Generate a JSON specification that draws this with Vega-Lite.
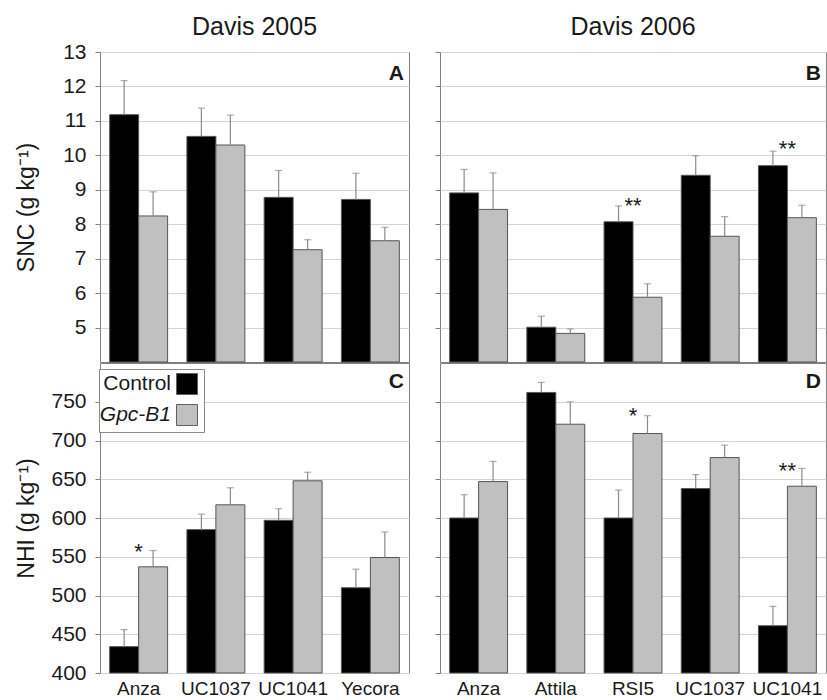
{
  "$schema": "https://vega.github.io/schema/vega-lite/v6.json",
  "padding": {"left": 14, "top": 14, "right": 0, "bottom": 0},
  "background": "white",
  "config": {
    "font": "Liberation Sans",
    "view": {"stroke": "#808080", "strokeWidth": 1},
    "axis": {"labelFont": "Liberation Sans", "titleFont": "Liberation Sans", "labelColor": "#1a1a1a", "titleColor": "#1a1a1a", "gridColor": "#d4d4d4", "tickColor": "#808080", "domain": false, "labelOverlap": false, "labelFlush": false},
    "title": {"font": "Liberation Sans", "fontSize": 25, "fontWeight": "normal", "color": "#1a1a1a"},
    "legend": {"labelFont": "Liberation Sans"}
  },
  "datasets": {
    "bars": [
      {"panel": "A", "cultivar": "Anza", "genotype": "Control", "mean": 11.18, "upper": 12.17},
      {"panel": "A", "cultivar": "Anza", "genotype": "Gpc-B1", "mean": 8.24, "upper": 8.94},
      {"panel": "A", "cultivar": "UC1037", "genotype": "Control", "mean": 10.55, "upper": 11.37},
      {"panel": "A", "cultivar": "UC1037", "genotype": "Gpc-B1", "mean": 10.30, "upper": 11.17},
      {"panel": "A", "cultivar": "UC1041", "genotype": "Control", "mean": 8.78, "upper": 9.56},
      {"panel": "A", "cultivar": "UC1041", "genotype": "Gpc-B1", "mean": 7.26, "upper": 7.55},
      {"panel": "A", "cultivar": "Yecora", "genotype": "Control", "mean": 8.72, "upper": 9.48},
      {"panel": "A", "cultivar": "Yecora", "genotype": "Gpc-B1", "mean": 7.52, "upper": 7.91},
      {"panel": "B", "cultivar": "Anza", "genotype": "Control", "mean": 8.91, "upper": 9.59},
      {"panel": "B", "cultivar": "Anza", "genotype": "Gpc-B1", "mean": 8.43, "upper": 9.49},
      {"panel": "B", "cultivar": "Attila", "genotype": "Control", "mean": 5.01, "upper": 5.33},
      {"panel": "B", "cultivar": "Attila", "genotype": "Gpc-B1", "mean": 4.83, "upper": 4.96},
      {"panel": "B", "cultivar": "RSI5", "genotype": "Control", "mean": 8.07, "upper": 8.53},
      {"panel": "B", "cultivar": "RSI5", "genotype": "Gpc-B1", "mean": 5.88, "upper": 6.27},
      {"panel": "B", "cultivar": "UC1037", "genotype": "Control", "mean": 9.42, "upper": 9.99},
      {"panel": "B", "cultivar": "UC1037", "genotype": "Gpc-B1", "mean": 7.65, "upper": 8.22},
      {"panel": "B", "cultivar": "UC1041", "genotype": "Control", "mean": 9.70, "upper": 10.12},
      {"panel": "B", "cultivar": "UC1041", "genotype": "Gpc-B1", "mean": 8.19, "upper": 8.55},
      {"panel": "C", "cultivar": "Anza", "genotype": "Control", "mean": 434, "upper": 456},
      {"panel": "C", "cultivar": "Anza", "genotype": "Gpc-B1", "mean": 537, "upper": 558},
      {"panel": "C", "cultivar": "UC1037", "genotype": "Control", "mean": 585, "upper": 605},
      {"panel": "C", "cultivar": "UC1037", "genotype": "Gpc-B1", "mean": 617, "upper": 639},
      {"panel": "C", "cultivar": "UC1041", "genotype": "Control", "mean": 597, "upper": 612},
      {"panel": "C", "cultivar": "UC1041", "genotype": "Gpc-B1", "mean": 648, "upper": 659},
      {"panel": "C", "cultivar": "Yecora", "genotype": "Control", "mean": 510, "upper": 534},
      {"panel": "C", "cultivar": "Yecora", "genotype": "Gpc-B1", "mean": 549, "upper": 582},
      {"panel": "D", "cultivar": "Anza", "genotype": "Control", "mean": 600, "upper": 630},
      {"panel": "D", "cultivar": "Anza", "genotype": "Gpc-B1", "mean": 647, "upper": 673},
      {"panel": "D", "cultivar": "Attila", "genotype": "Control", "mean": 762, "upper": 775},
      {"panel": "D", "cultivar": "Attila", "genotype": "Gpc-B1", "mean": 721, "upper": 750},
      {"panel": "D", "cultivar": "RSI5", "genotype": "Control", "mean": 600, "upper": 636},
      {"panel": "D", "cultivar": "RSI5", "genotype": "Gpc-B1", "mean": 709, "upper": 732},
      {"panel": "D", "cultivar": "UC1037", "genotype": "Control", "mean": 638, "upper": 656},
      {"panel": "D", "cultivar": "UC1037", "genotype": "Gpc-B1", "mean": 678, "upper": 694},
      {"panel": "D", "cultivar": "UC1041", "genotype": "Control", "mean": 461, "upper": 486},
      {"panel": "D", "cultivar": "UC1041", "genotype": "Gpc-B1", "mean": 641, "upper": 664}
    ],
    "sig": [
      {"panel": "B", "cultivar": "RSI5", "y": 8.33, "label": "**"},
      {"panel": "B", "cultivar": "UC1041", "y": 9.98, "label": "**"},
      {"panel": "C", "cultivar": "Anza", "y": 547, "label": "*"},
      {"panel": "D", "cultivar": "RSI5", "y": 723, "label": "*"},
      {"panel": "D", "cultivar": "UC1041", "y": 652, "label": "**"}
    ]
  },
  "columns": 2,
  "spacing": {"row": 1, "column": 31},
  "bounds": "flush",
  "resolve": {"scale": {"x": "independent", "y": "independent", "color": "independent", "xOffset": "independent"}, "legend": {"color": "independent"}},
  "concat": [
    {
      "width": 309, "height": 310,
      "title": {"text": "Davis 2005", "offset": 1},
      "data": {"name": "bars"},
      "transform": [{"filter": "datum.panel === 'A'"}],
      "encoding": {
        "x": {"field": "cultivar", "type": "nominal", "scale": {"domain": ["Anza", "UC1037", "UC1041", "Yecora"], "paddingInner": 0.25, "paddingOuter": 0.125}, "axis": null}
      },
      "layer": [
        {
          "mark": {"type": "bar", "stroke": "#555555", "strokeWidth": 1},
          "encoding": {
            "xOffset": {"field": "genotype", "type": "nominal", "scale": {"domain": ["Control", "Gpc-B1"], "paddingInner": 0, "paddingOuter": 0}},
            "y": {"field": "mean", "type": "quantitative", "title": "SNC (g kg⁻¹)", "scale": {"domain": [4, 13], "nice": false, "zero": false},
              "axis": {"values": [5, 6, 7, 8, 9, 10, 11, 12, 13], "grid": true, "tickSize": 5, "labelOverlap": false, "labelPadding": 9, "labelFontSize": 21, "titleFontSize": 23, "titleFontWeight": "normal", "minExtent": 50, "maxExtent": 50, "titlePadding": 12}},
            "y2": {"datum": 4},
            "color": {"field": "genotype", "type": "nominal", "scale": {"domain": ["Control", "Gpc-B1"], "range": ["#000000", "#c0c0c0"]}, "legend": null}
          }
        },
        {
          "mark": {"type": "rule", "color": "#8a8a8a", "strokeWidth": 1.2},
          "encoding": {
            "xOffset": {"field": "genotype", "type": "nominal"},
            "y": {"field": "mean", "type": "quantitative", "title": "SNC (g kg⁻¹)",
              "axis": {"values": [5, 6, 7, 8, 9, 10, 11, 12, 13], "grid": true, "tickSize": 5, "labelOverlap": false, "labelPadding": 9, "labelFontSize": 21, "titleFontSize": 23, "titleFontWeight": "normal", "minExtent": 50, "maxExtent": 50, "titlePadding": 12}},
            "y2": {"field": "upper"}
          }
        },
        {
          "mark": {"type": "tick", "orient": "horizontal", "color": "#8a8a8a", "size": 7, "thickness": 1.2},
          "encoding": {
            "xOffset": {"field": "genotype", "type": "nominal"},
            "y": {"field": "upper", "type": "quantitative", "title": "SNC (g kg⁻¹)",
              "axis": {"values": [5, 6, 7, 8, 9, 10, 11, 12, 13], "grid": true, "tickSize": 5, "labelOverlap": false, "labelPadding": 9, "labelFontSize": 21, "titleFontSize": 23, "titleFontWeight": "normal", "minExtent": 50, "maxExtent": 50, "titlePadding": 12}}
          }
        },
        {
          "data": {"values": [{"label": "A"}]},
          "mark": {"type": "text", "fontSize": 21, "fontWeight": "bold", "align": "right", "dx": -5, "baseline": "middle", "color": "#1a1a1a"},
          "encoding": {"x": {"value": "width"}, "y": {"datum": 12.35, "type": "quantitative", "title": "SNC (g kg⁻¹)",
              "axis": {"values": [5, 6, 7, 8, 9, 10, 11, 12, 13], "grid": true, "tickSize": 5, "labelOverlap": false, "labelPadding": 9, "labelFontSize": 21, "titleFontSize": 23, "titleFontWeight": "normal", "minExtent": 50, "maxExtent": 50, "titlePadding": 12}}, "text": {"field": "label"}}
        }
      ]
    },
    {
      "width": 386, "height": 310,
      "title": {"text": "Davis 2006", "offset": 12},
      "data": {"name": "bars"},
      "transform": [{"filter": "datum.panel === 'B'"}],
      "encoding": {
        "x": {"field": "cultivar", "type": "nominal", "scale": {"domain": ["Anza", "Attila", "RSI5", "UC1037", "UC1041"], "paddingInner": 0.25, "paddingOuter": 0.125}, "axis": null}
      },
      "layer": [
        {
          "mark": {"type": "bar", "stroke": "#555555", "strokeWidth": 1},
          "encoding": {
            "xOffset": {"field": "genotype", "type": "nominal", "scale": {"domain": ["Control", "Gpc-B1"], "paddingInner": 0, "paddingOuter": 0}},
            "y": {"field": "mean", "type": "quantitative", "title": null, "scale": {"domain": [4, 13], "nice": false, "zero": false},
              "axis": {"values": [5, 6, 7, 8, 9, 10, 11, 12, 13], "grid": true, "tickSize": 5, "labels": false}},
            "y2": {"datum": 4},
            "color": {"field": "genotype", "type": "nominal", "scale": {"domain": ["Control", "Gpc-B1"], "range": ["#000000", "#c0c0c0"]}, "legend": null}
          }
        },
        {
          "mark": {"type": "rule", "color": "#8a8a8a", "strokeWidth": 1.2},
          "encoding": {
            "xOffset": {"field": "genotype", "type": "nominal"},
            "y": {"field": "mean", "type": "quantitative", "title": null,
              "axis": {"values": [5, 6, 7, 8, 9, 10, 11, 12, 13], "grid": true, "tickSize": 5, "labels": false}},
            "y2": {"field": "upper"}
          }
        },
        {
          "mark": {"type": "tick", "orient": "horizontal", "color": "#8a8a8a", "size": 7, "thickness": 1.2},
          "encoding": {
            "xOffset": {"field": "genotype", "type": "nominal"},
            "y": {"field": "upper", "type": "quantitative", "title": null,
              "axis": {"values": [5, 6, 7, 8, 9, 10, 11, 12, 13], "grid": true, "tickSize": 5, "labels": false}}
          }
        },
        {
          "data": {"name": "sig"},
          "transform": [{"filter": "datum.panel === 'B'"}],
          "mark": {"type": "text", "fontSize": 22, "baseline": "alphabetic", "color": "#1a1a1a"},
          "encoding": {"y": {"field": "y", "type": "quantitative", "title": null,
              "axis": {"values": [5, 6, 7, 8, 9, 10, 11, 12, 13], "grid": true, "tickSize": 5, "labels": false}}, "text": {"field": "label"}}
        },
        {
          "data": {"values": [{"label": "B"}]},
          "mark": {"type": "text", "fontSize": 21, "fontWeight": "bold", "align": "right", "dx": -5, "baseline": "middle", "color": "#1a1a1a"},
          "encoding": {"x": {"value": "width"}, "y": {"datum": 12.35, "type": "quantitative", "title": null,
              "axis": {"values": [5, 6, 7, 8, 9, 10, 11, 12, 13], "grid": true, "tickSize": 5, "labels": false}}, "text": {"field": "label"}}
        }
      ]
    },
    {
      "width": 309, "height": 310,
      "data": {"name": "bars"},
      "transform": [{"filter": "datum.panel === 'C'"}],
      "encoding": {
        "x": {"field": "cultivar", "type": "nominal", "scale": {"domain": ["Anza", "UC1037", "UC1041", "Yecora"], "paddingInner": 0.25, "paddingOuter": 0.125},
          "axis": {"title": null, "labelAngle": 0, "ticks": false, "tickSize": 0, "labelPadding": 6, "labelFontSize": 19}}
      },
      "layer": [
        {
          "mark": {"type": "bar", "stroke": "#555555", "strokeWidth": 1},
          "encoding": {
            "xOffset": {"field": "genotype", "type": "nominal", "scale": {"domain": ["Control", "Gpc-B1"], "paddingInner": 0, "paddingOuter": 0}},
            "y": {"field": "mean", "type": "quantitative", "title": "NHI (g kg⁻¹)", "scale": {"domain": [400, 800], "nice": false, "zero": false},
              "axis": {"values": [400, 450, 500, 550, 600, 650, 700, 750], "grid": true, "tickSize": 5, "labelOverlap": false, "labelPadding": 9, "labelFontSize": 21, "titleFontSize": 23, "titleFontWeight": "normal", "minExtent": 50, "maxExtent": 50, "titlePadding": 12}},
            "y2": {"datum": 400},
            "color": {"field": "genotype", "type": "nominal", "scale": {"domain": ["Control", "Gpc-B1"], "range": ["#000000", "#c0c0c0"]},
              "legend": {"title": null, "orient": "none", "legendX": -1, "legendY": 6, "direction": "vertical", "symbolType": "square", "symbolSize": 441, "symbolStrokeColor": "#606060", "symbolStrokeWidth": 1, "symbolOffset": 73, "labelAlign": "right", "labelOffset": -27, "labelFontSize": 21, "labelColor": "#1a1a1a", "fillColor": "white", "strokeColor": "#8a8a8a", "padding": 4, "rowPadding": 5,
                "encode": {"labels": {"update": {"fontStyle": {"signal": "datum.label === 'Gpc-B1' ? 'italic' : 'normal'"}}}}}}
          }
        },
        {
          "mark": {"type": "rule", "color": "#8a8a8a", "strokeWidth": 1.2},
          "encoding": {
            "xOffset": {"field": "genotype", "type": "nominal"},
            "y": {"field": "mean", "type": "quantitative", "title": "NHI (g kg⁻¹)",
              "axis": {"values": [400, 450, 500, 550, 600, 650, 700, 750], "grid": true, "tickSize": 5, "labelOverlap": false, "labelPadding": 9, "labelFontSize": 21, "titleFontSize": 23, "titleFontWeight": "normal", "minExtent": 50, "maxExtent": 50, "titlePadding": 12}},
            "y2": {"field": "upper"}
          }
        },
        {
          "mark": {"type": "tick", "orient": "horizontal", "color": "#8a8a8a", "size": 7, "thickness": 1.2},
          "encoding": {
            "xOffset": {"field": "genotype", "type": "nominal"},
            "y": {"field": "upper", "type": "quantitative", "title": "NHI (g kg⁻¹)",
              "axis": {"values": [400, 450, 500, 550, 600, 650, 700, 750], "grid": true, "tickSize": 5, "labelOverlap": false, "labelPadding": 9, "labelFontSize": 21, "titleFontSize": 23, "titleFontWeight": "normal", "minExtent": 50, "maxExtent": 50, "titlePadding": 12}}
          }
        },
        {
          "data": {"name": "sig"},
          "transform": [{"filter": "datum.panel === 'C'"}],
          "mark": {"type": "text", "fontSize": 22, "baseline": "alphabetic", "color": "#1a1a1a"},
          "encoding": {"y": {"field": "y", "type": "quantitative", "title": "NHI (g kg⁻¹)",
              "axis": {"values": [400, 450, 500, 550, 600, 650, 700, 750], "grid": true, "tickSize": 5, "labelOverlap": false, "labelPadding": 9, "labelFontSize": 21, "titleFontSize": 23, "titleFontWeight": "normal", "minExtent": 50, "maxExtent": 50, "titlePadding": 12}}, "text": {"field": "label"}}
        },
        {
          "data": {"values": [{"label": "C"}]},
          "mark": {"type": "text", "fontSize": 21, "fontWeight": "bold", "align": "right", "dx": -5, "baseline": "middle", "color": "#1a1a1a"},
          "encoding": {"x": {"value": "width"}, "y": {"datum": 775, "type": "quantitative", "title": "NHI (g kg⁻¹)",
              "axis": {"values": [400, 450, 500, 550, 600, 650, 700, 750], "grid": true, "tickSize": 5, "labelOverlap": false, "labelPadding": 9, "labelFontSize": 21, "titleFontSize": 23, "titleFontWeight": "normal", "minExtent": 50, "maxExtent": 50, "titlePadding": 12}}, "text": {"field": "label"}}
        }
      ]
    },
    {
      "width": 386, "height": 310,
      "data": {"name": "bars"},
      "transform": [{"filter": "datum.panel === 'D'"}],
      "encoding": {
        "x": {"field": "cultivar", "type": "nominal", "scale": {"domain": ["Anza", "Attila", "RSI5", "UC1037", "UC1041"], "paddingInner": 0.25, "paddingOuter": 0.125},
          "axis": {"title": null, "labelAngle": 0, "ticks": false, "tickSize": 0, "labelPadding": 6, "labelFontSize": 19}}
      },
      "layer": [
        {
          "mark": {"type": "bar", "stroke": "#555555", "strokeWidth": 1},
          "encoding": {
            "xOffset": {"field": "genotype", "type": "nominal", "scale": {"domain": ["Control", "Gpc-B1"], "paddingInner": 0, "paddingOuter": 0}},
            "y": {"field": "mean", "type": "quantitative", "title": null, "scale": {"domain": [400, 800], "nice": false, "zero": false},
              "axis": {"values": [400, 450, 500, 550, 600, 650, 700, 750], "grid": true, "tickSize": 5, "labels": false}},
            "y2": {"datum": 400},
            "color": {"field": "genotype", "type": "nominal", "scale": {"domain": ["Control", "Gpc-B1"], "range": ["#000000", "#c0c0c0"]}, "legend": null}
          }
        },
        {
          "mark": {"type": "rule", "color": "#8a8a8a", "strokeWidth": 1.2},
          "encoding": {
            "xOffset": {"field": "genotype", "type": "nominal"},
            "y": {"field": "mean", "type": "quantitative", "title": null,
              "axis": {"values": [400, 450, 500, 550, 600, 650, 700, 750], "grid": true, "tickSize": 5, "labels": false}},
            "y2": {"field": "upper"}
          }
        },
        {
          "mark": {"type": "tick", "orient": "horizontal", "color": "#8a8a8a", "size": 7, "thickness": 1.2},
          "encoding": {
            "xOffset": {"field": "genotype", "type": "nominal"},
            "y": {"field": "upper", "type": "quantitative", "title": null,
              "axis": {"values": [400, 450, 500, 550, 600, 650, 700, 750], "grid": true, "tickSize": 5, "labels": false}}
          }
        },
        {
          "data": {"name": "sig"},
          "transform": [{"filter": "datum.panel === 'D'"}],
          "mark": {"type": "text", "fontSize": 22, "baseline": "alphabetic", "color": "#1a1a1a"},
          "encoding": {"y": {"field": "y", "type": "quantitative", "title": null,
              "axis": {"values": [400, 450, 500, 550, 600, 650, 700, 750], "grid": true, "tickSize": 5, "labels": false}}, "text": {"field": "label"}}
        },
        {
          "data": {"values": [{"label": "D"}]},
          "mark": {"type": "text", "fontSize": 21, "fontWeight": "bold", "align": "right", "dx": -5, "baseline": "middle", "color": "#1a1a1a"},
          "encoding": {"x": {"value": "width"}, "y": {"datum": 775, "type": "quantitative", "title": null,
              "axis": {"values": [400, 450, 500, 550, 600, 650, 700, 750], "grid": true, "tickSize": 5, "labels": false}}, "text": {"field": "label"}}
        }
      ]
    }
  ]
}
